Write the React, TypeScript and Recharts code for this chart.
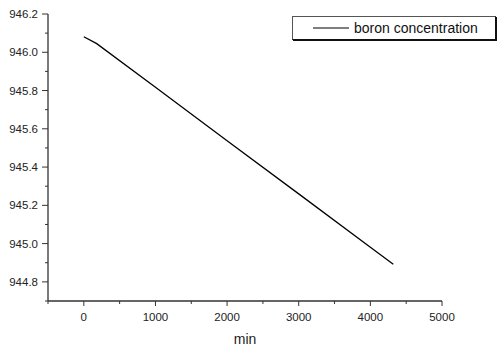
import { LineChart, Line, XAxis, YAxis, Legend } from "recharts";

// elapsed time (min) and measured boron concentration
const minutes = [0, 180, 1000, 2000, 3000, 4000, 4320];
const boron = [946.081, 946.045, 945.817, 945.537, 945.26, 944.981, 944.892];

const xTicks = [-500, 0, 500, 1000, 1500, 2000, 2500, 3000, 3500, 4000, 4500, 5000];
const yTicks = [
  944.7, 944.8, 944.9, 945.0, 945.1, 945.2, 945.3, 945.4, 945.5, 945.6, 945.7,
  945.8, 945.9, 946.0, 946.1, 946.2,
];

const data = minutes.map((t, i) => ({ t, boron: boron[i] }));

const FONT = "'Liberation Sans', Arial, sans-serif";
const AXIS = "#333";

// left axis: long tick + label every 0.2, short tick in between
const YTick = (props: any) => {
  const { x, y, payload } = props;
  const v = payload.value as number;
  const major = Math.abs(v * 5 - Math.round(v * 5)) < 1e-6 && v > 944.75;
  return (
    <g>
      <line x1={x} x2={x - (major ? 6 : 3)} y1={y} y2={y} stroke={AXIS} />
      {major && (
        <text x={x - 10} y={y + 4} textAnchor="end" fontSize={11.5} fontFamily={FONT} fill="#222">
          {v.toFixed(1)}
        </text>
      )}
    </g>
  );
};

// bottom axis: long tick + label every 1000, short tick in between
const XTick = (props: any) => {
  const { x, y, payload } = props;
  const v = payload.value as number;
  const major = v % 1000 === 0;
  return (
    <g>
      <line x1={x} x2={x} y1={y} y2={y + (major ? 5 : 3)} stroke={AXIS} />
      {major && (
        <text x={x} y={y + 20} textAnchor="middle" fontSize={11.5} fontFamily={FONT} fill="#222">
          {v}
        </text>
      )}
    </g>
  );
};

const LegendBox = (props: any) => {
  const item = props.payload?.[0];
  return (
    <div
      style={{
        boxSizing: "border-box",
        width: 204,
        height: 24,
        border: "1px solid #555",
        borderRightColor: "#111",
        borderBottomColor: "#111",
        boxShadow: "1px 1px 0 #111",
        background: "#fff",
        display: "flex",
        alignItems: "center",
        fontFamily: FONT,
        fontSize: 14,
        color: "#111",
      }}
    >
      <svg width={56} height={10} style={{ marginLeft: 20 }}>
        <line x1={0} x2={36} y1={5} y2={5} stroke="#000" strokeWidth={1.2} />
      </svg>
      <span style={{ marginLeft: -15 }}>{item?.value}</span>
    </div>
  );
};

export default function App() {
  return (
    <div style={{ position: "absolute", left: 0, top: 0, background: "#fff" }}>
      <LineChart
        width={499}
        height={354}
        data={data}
        margin={{ top: 14, right: 57, left: 0, bottom: 0 }}
      >
        <XAxis
          dataKey="t"
          type="number"
          domain={[-500, 5000]}
          ticks={xTicks}
          interval={0}
          height={53}
          tickSize={0}
          tickMargin={0}
          tickLine={false}
          tick={<XTick />}
          axisLine={{ stroke: AXIS, strokeWidth: 1.3 }}
          allowDataOverflow
          label={{
            value: "min",
            position: "insideBottom",
            offset: 10,
            fontSize: 14,
            fontFamily: FONT,
            fill: "#222",
          }}
        />
        <YAxis
          type="number"
          domain={[944.7, 946.2]}
          ticks={yTicks}
          interval={0}
          width={48}
          tickSize={0}
          tickMargin={0}
          tickLine={false}
          tick={<YTick />}
          axisLine={{ stroke: AXIS, strokeWidth: 1.3 }}
          allowDataOverflow
        />
        <Legend
          layout="horizontal"
          verticalAlign="middle"
          align="center"
          content={<LegendBox />}
          wrapperStyle={{ left: 292, top: 16, width: 204, height: 24 }}
        />
        <Line
          type="linear"
          dataKey="boron"
          name="boron concentration"
          stroke="#000"
          strokeWidth={1.3}
          dot={false}
          isAnimationActive={false}
        />
      </LineChart>
    </div>
  );
}
